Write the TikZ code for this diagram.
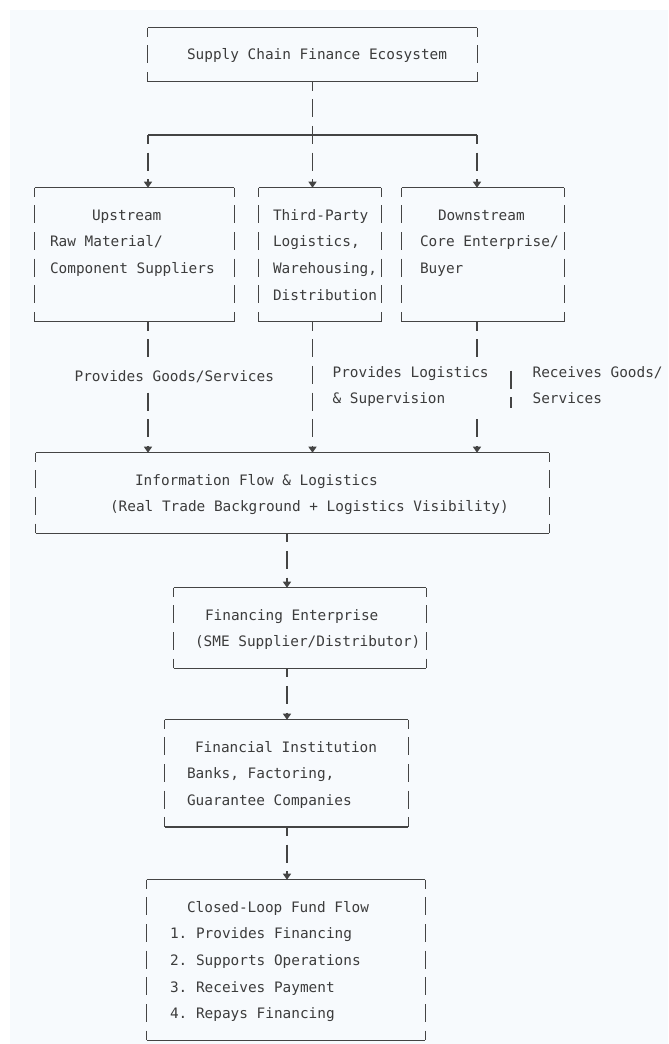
\documentclass[tikz,border=0pt]{standalone}
\usepackage{fontspec}
\newfontfamily\asciifont{DejaVu Sans Mono}
\usepackage{tikz}
\usetikzlibrary{calc,arrows,arrows.meta,positioning}
\definecolor{mypaper}{RGB}{247,250,253}
\definecolor{myink}{RGB}{60,60,60}
\definecolor{myrule}{RGB}{68,68,68}
\tikzstyle{asciibox}=[rectangle,inner xsep=0pt,inner ysep=0pt,align=left,font=\asciifont\fontsize{10.8}{20}\selectfont,text=myink,execute at begin node={\spaceskip=0.60205em\xspaceskip=0.60205em\relax\strut},execute at end node=\strut]
\tikzstyle{rule}=[draw=myrule,line width=0.9pt]
\tikzstyle{bar}=[rule,dash pattern=on 13.5pt off 6.5pt,dash phase=6.75pt]
\tikzstyle{flow}=[bar,-{Triangle[width=6pt,length=4.5pt]}]
\tikzstyle{tag}=[asciibox,fill=mypaper,inner sep=1pt]

\begin{document}
\begin{tikzpicture}[x=0.75pt,y=-0.75pt]
\fill[white] (0,0) rectangle (668,1044);
\fill[mypaper] (10,10) rectangle (668,1044);
\useasboundingbox (0,0) rectangle (668,1044);

% boxes
\draw (312.5, 54.67) node [asciibox,text width=246.75pt,minimum height=40pt] (eco) {\hspace*{29.25pt}Supply Chain Finance Ecosystem};
\draw (134.5, 254.67) node [asciibox,text width=149.25pt,minimum height=100pt] (up) {\hspace*{42.75pt}Upstream\\ \hspace*{11.25pt}Raw Material/\\ \hspace*{11.25pt}Component Suppliers\\ \mbox{}};
\draw (320, 254.67) node [asciibox,text width=91.5pt,minimum height=100pt] (third) {\hspace*{10.5pt}Third-Party\\ \hspace*{10.5pt}Logistics,\\ \hspace*{10.5pt}Warehousing,\\ \hspace*{10.5pt}Distribution};
\draw (483, 254.67) node [asciibox,text width=121.5pt,minimum height=100pt] (down) {\hspace*{27pt}Downstream\\ \hspace*{13.5pt}Core Enterprise/\\ \hspace*{13.5pt}Buyer\\ \mbox{}};
\draw (292.5, 493) node [asciibox,text width=384.75pt,minimum height=60pt] (info) {\hspace*{74.25pt}Information Flow \& Logistics\\ \hspace*{55.5pt}(Real Trade Background + Logistics Visibility)};
\draw (300, 628) node [asciibox,text width=189pt,minimum height=60pt] (fin) {\hspace*{23.25pt}Financing Enterprise\\ \hspace*{15.75pt}(SME Supplier/Distributor)};
\draw (286.5, 773.33) node [asciibox,text width=182.25pt,minimum height=80pt] (inst) {\hspace*{22.5pt}Financial Institution\\ \hspace*{16.5pt}Banks, Factoring,\\ \hspace*{16.5pt}Guarantee Companies};
\draw (286, 960) node [asciibox,text width=208.5pt,minimum height=120pt] (loop) {\hspace*{30pt}Closed-Loop Fund Flow\\ \hspace*{17.25pt}1. Provides Financing\\ \hspace*{17.25pt}2. Supports Operations\\ \hspace*{17.25pt}3. Receives Payment\\ \hspace*{17.25pt}4. Repays Financing};

% borders
\foreach \b in {eco,up,third,down,info,fin,inst,loop}{
  \draw[rule] (\b.north west) -- (\b.north east);
  \draw[rule] (\b.south west) -- (\b.south east);
  \draw[bar] (\b.north west) -- (\b.south west);
  \draw[bar] (\b.north east) -- (\b.south east);
}

% connectors
\coordinate (bl) at (148,135);
\coordinate (br) at (477,135);
\coordinate (spine) at (287,0);
\draw[rule] (bl) -- (br);
\draw[flow] (eco.south) -- (eco.south |- third.north);
\draw[flow] (bl) -- (bl |- up.north);
\draw[flow] (br) -- (br |- down.north);
\draw[flow] (up.south -| bl) -- (info.north -| bl);
\draw[flow] (third.south -| eco.south) -- (info.north -| eco.south);
\draw[flow] (down.south -| br) -- (info.north -| br);
\draw[flow] (info.south -| spine) -- (fin.north -| spine);
\draw[flow] (fin.south -| spine) -- (inst.north -| spine);
\draw[flow] (inst.south -| spine) -- (loop.north -| spine);

% labels
\draw (73, 376) node [tag,anchor=west] (goods) {Provides Goods/Services};
\draw (331, 389) node [tag,anchor=west] (logis) {Provides Logistics\\ \& Supervision};
\draw (531, 389) node [tag,anchor=west,fill=none] (recv) {Receives Goods/\\ Services};
\draw[bar,dash phase=0pt,shorten <=4.5pt,shorten >=4pt] ([xshift=-15pt]recv.north west) -- ([xshift=-15pt]recv.south west);
\end{tikzpicture}
\end{document}
